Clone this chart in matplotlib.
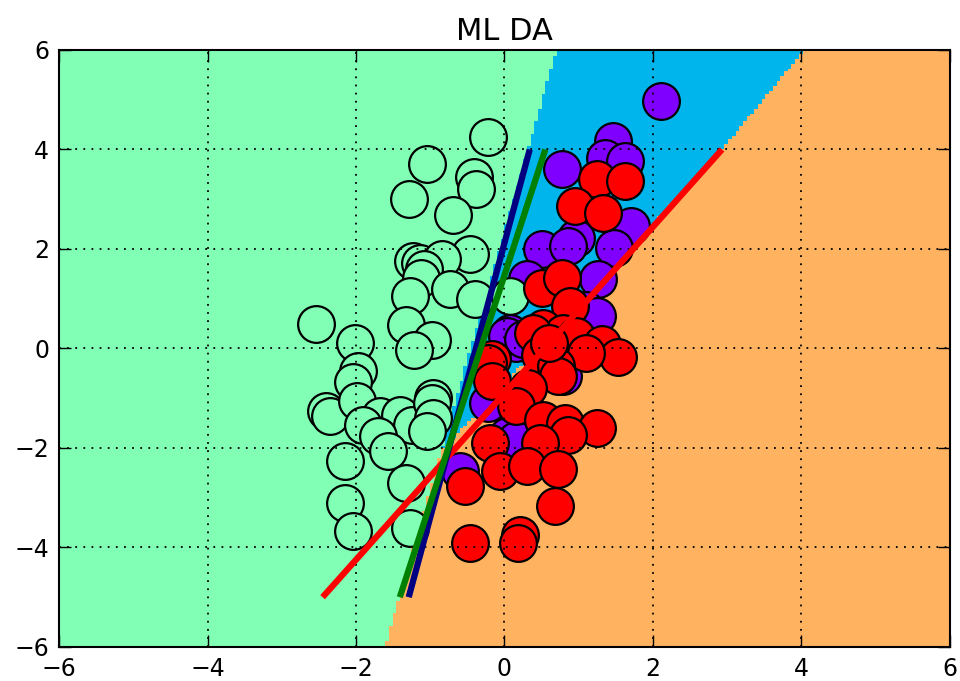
import numpy as np
import matplotlib
matplotlib.use("Agg")
import matplotlib.pyplot as plt

# class points
mint_x = [-0.22, -1.04, -1.28, -0.41, -0.39, -0.70, -0.47, -1.23, -1.14, -0.84, -1.09, -1.12,
          -0.73, -1.27, -0.40, 0.07, -1.32, -2.54, -0.97, -1.22, -2.02, -1.97, -2.04, -0.96,
          -2.40, -2.35, -1.99, -1.68, -1.90, -1.41, -1.25, -0.98, -0.96, -1.05, -1.70, -1.57,
          -2.15, -1.32, -2.15, -2.04, -1.27]
mint_y = [4.25, 3.70, 3.01, 3.45, 3.21, 2.69, 1.89, 1.75, 1.72, 1.80, 1.59, 1.42,
          1.19, 1.05, 1.00, 1.05, 0.48, 0.50, 0.18, -0.03, 0.11, -0.46, -0.68, -0.99,
          -1.26, -1.36, -1.06, -1.36, -1.53, -1.33, -1.53, -1.09, -1.39, -1.66, -1.76, -2.06,
          -2.26, -2.70, -3.10, -3.67, -3.61]

purple_x = [2.11, 1.46, 0.77, 1.35, 1.62, 1.71, 0.50, 0.97, 0.86, 1.48, 1.26, 0.30,
            1.10, 0.07, 0.16, 1.24, 0.03, 0.79, -0.22, 0.03, 0.16, -0.60, 0.25]
purple_y = [4.97, 4.17, 3.60, 3.83, 3.77, 2.46, 1.99, 2.22, 2.06, 2.02, 1.39, 1.39,
            0.78, 0.32, 0.11, 0.65, 0.25, -0.56, -1.09, -1.76, -1.83, -2.47, 0.20]

red_x = [1.24, 1.62, 0.95, 1.33, 0.50, 0.77, 0.88, 0.52, 0.79, 0.97, 0.39, 1.31,
         1.53, 1.10, 0.48, -0.17, 0.70, -0.22, -0.17, 0.72, 0.32, 0.16, 0.52, 0.81,
         1.24, 0.86, 0.48, -0.20, -0.06, 0.30, 0.72, -0.53, 0.68, -0.47, 0.21, 0.18, 0.60]
red_y = [3.40, 3.36, 2.86, 2.73, 1.22, 1.42, 0.85, 0.42, 0.32, 0.25, 0.32, 0.08,
         -0.17, -0.09, -0.13, -0.22, -0.36, -0.29, -0.66, -0.56, -0.79, -1.16, -1.43, -1.50,
         -1.60, -1.73, -1.90, -1.90, -2.47, -2.37, -2.43, -2.77, -3.17, -3.91, -3.74, -3.91, 0.10]

# discriminant lines (end points)
blue_line_x = [-1.29, 0.34]
blue_line_y = [-5, 4]
green_line_x = [-1.41, 0.55]
green_line_y = [-5, 4]
red_line_x = [-2.45, 2.93]
red_line_y = [-5, 4]

# decision region boundaries (x as a function of y)
mint_edge_y = [-6, 6]
mint_edge_x = [-1.61, 0.70]
orange_edge_y = [-6, -1.89, 4.04, 6]
orange_edge_x = [-3.30, -0.74, 2.95, 4.04]

cmap = plt.get_cmap("rainbow")
c_mint = cmap(0.5)

gx = np.linspace(-6, 6, 240)
gy = np.linspace(-6, 6, 240)
X, Y = np.meshgrid(gx, gy)
edge1 = np.interp(Y, mint_edge_y, mint_edge_x)
edge2 = np.interp(Y, orange_edge_y, orange_edge_x)
Z = np.where(X < edge1, 0.5, np.where(X < edge2, 0.25, 0.75))

fig = plt.figure(figsize=(9.6, 6.81), dpi=100)
ax = fig.add_axes([0.0615, 0.050, 0.928, 0.8766])
ax.pcolormesh(X, Y, Z, cmap=cmap, vmin=0, vmax=1, shading="auto")

ms = 700
ax.scatter(purple_x, purple_y, s=ms, color=cmap(0.0), edgecolors="k", linewidths=1.6, zorder=2)
ax.scatter(mint_x, mint_y, s=ms, color=c_mint, edgecolors="k", linewidths=1.6, zorder=2)
ax.scatter(red_x, red_y, s=ms, color=cmap(1.0), edgecolors="k", linewidths=1.6, zorder=2)

ax.plot(red_line_x, red_line_y, color="red", lw=4.5, zorder=3, solid_capstyle="butt")
ax.plot(blue_line_x, blue_line_y, color="navy", lw=4.5, zorder=3, solid_capstyle="butt")
ax.plot(green_line_x, green_line_y, color="green", lw=4.5, zorder=3, solid_capstyle="butt")

ax.set_xlim(-6, 6)
ax.set_ylim(-6, 6)
ax.set_xticks(range(-6, 7, 2))
ax.set_yticks(range(-6, 7, 2))
ax.grid(True, color="k", linestyle=(0, (1, 3.5)), linewidth=1.3, zorder=4)
ax.set_axisbelow(False)
ax.tick_params(direction="in", length=8.5, width=1, labelsize=17, pad=7,
               top=True, right=True)
for sp in ax.spines.values():
    sp.set_linewidth(1.5)
ax.set_title("ML DA", fontsize=22, pad=7)

fig.savefig("out.png", dpi=100)
